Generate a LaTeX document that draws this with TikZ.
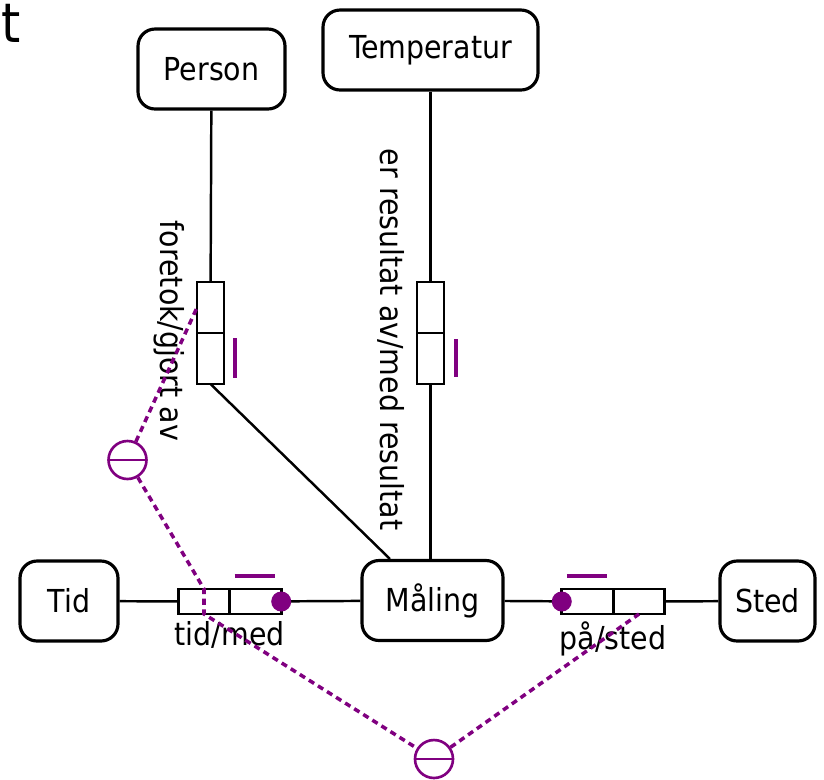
\documentclass[tikz,border=0pt]{standalone}
\usepackage{fontspec}
\setmainfont{DejaVu Sans Condensed}
\usetikzlibrary{positioning, calc}
\definecolor{ormpurple}{RGB}{128,0,128}

\begin{document}
\begin{tikzpicture}[x=0.02cm, y=-0.02cm,
        entity/.style={rectangle, draw, fill=white, rounded corners=0.34cm, line width=1.8pt, minimum height=1.6cm, font=\fontsize{18}{21}\selectfont},
        rolev/.style={rectangle, draw, fill=white, line width=1.5pt, minimum width=0.54cm, minimum height=1.02cm, inner sep=0pt, outer sep=0pt},
        roleh/.style={rectangle, draw, fill=white, line width=1.5pt, minimum width=1.03cm, minimum height=0.5cm, inner sep=0pt, outer sep=0pt},
        conn/.style={line width=1.4pt},
        uniq/.style={draw=ormpurple, line width=2.2pt},
        mand/.style={fill=ormpurple},
        excl/.style={circle, draw=ormpurple, line width=1.5pt, fill=white, minimum size=0.76cm, inner sep=0pt,
            path picture={\draw[ormpurple, line width=1.5pt] (path picture bounding box.west) -- (path picture bounding box.east);}},
        exline/.style={draw=ormpurple, line width=2pt, dash pattern=on 3.5pt off 2.6pt},
        lbl/.style={font=\fontsize{18}{21}\selectfont, inner sep=2pt}
    ]
    \useasboundingbox (0,0) rectangle (824,779);
    % letter at the top edge
    \node[anchor=base west, inner sep=0pt, font=\fontsize{31}{34}\selectfont] (cut) at (1,42) {t};
    % Entities
    \node[entity, minimum width=2.94cm] (person) at (211.5,69) {Person};
    \node[entity, minimum width=4.3cm] (temp) at (430.5,50) {Temperatur};
    \node[entity, minimum width=2.82cm] (maling) at (432.5,600.5) {Måling};
    \node[entity, minimum width=1.96cm] (tid) at (69,601) {Tid};
    \node[entity, minimum width=1.9cm] (sted) at (767.5,601) {Sted};
    % Roles
    \node[rolev] (persA) at (210.5,307.5) {};
    \node[rolev, below=0pt of persA] (persB) {};
    \node[rolev] (tempA) at (430.5,307.5) {};
    \node[rolev, below=0pt of tempA] (tempB) {};
    \node[roleh] (tidA) at (204,601.5) {};
    \node[roleh, right=0pt of tidA] (tidB) {};
    \node[roleh] (stedA) at (587.5,601.5) {};
    \node[roleh, right=0pt of stedA] (stedB) {};
    % Labels
    \node[lbl, rotate=-90] (forlbl) at (169,331) {foretok/gjort av};
    \node[lbl, rotate=-90] (reslbl) at (391,339.5) {er resultat av/med resultat};
    \node[lbl, below=0.08cm of tidA.south east] (tidlbl) {tid/med};
    \node[lbl, below=0.08cm of stedA.south east] (stedlbl) {på/sted};
    % Connections
    \draw[conn] (person) -- (persA);
    \draw[conn] (persB.south) -- (maling);
    \draw[conn] (temp) -- (tempA);
    \draw[conn] (tempB) -- (tempB |- maling.north);
    \draw[conn] (tid) -- (tidA);
    \draw[conn] (tidB) -- (maling);
    \draw[conn] (maling) -- (stedA);
    \draw[conn] (stedB) -- (sted);
    % Uniqueness and mandatory
    \draw[uniq] ($(persB.north east)+(11,5)$) -- ($(persB.south east)+(11,-6)$);
    \draw[uniq] ($(tempB.north east)+(12,6)$) -- ($(tempB.south east)+(12,-7)$);
    \draw[uniq] ($(tidB.north west)+(5,-13)$) -- ($(tidB.north east)+(-6,-13)$);
    \draw[uniq] ($(stedA.north west)+(5,-13)$) -- ($(stedA.north east)+(-6,-13)$);
    \fill[mand] (tidB.east) circle (0.2cm);
    \fill[mand] (stedA.west) circle (0.2cm);
    % Exclusion
    \node[excl] (exL) at (127.5,460) {};
    \node[excl] (exB) at (434,759) {};
    \draw[exline] (exL) -- (persA.west);
    \draw[exline] (exL) -- (tidA.north) -- (tidA.south) -- (exB);
    \draw[exline] (exB) -- (stedB.south);
\end{tikzpicture}
\end{document}
